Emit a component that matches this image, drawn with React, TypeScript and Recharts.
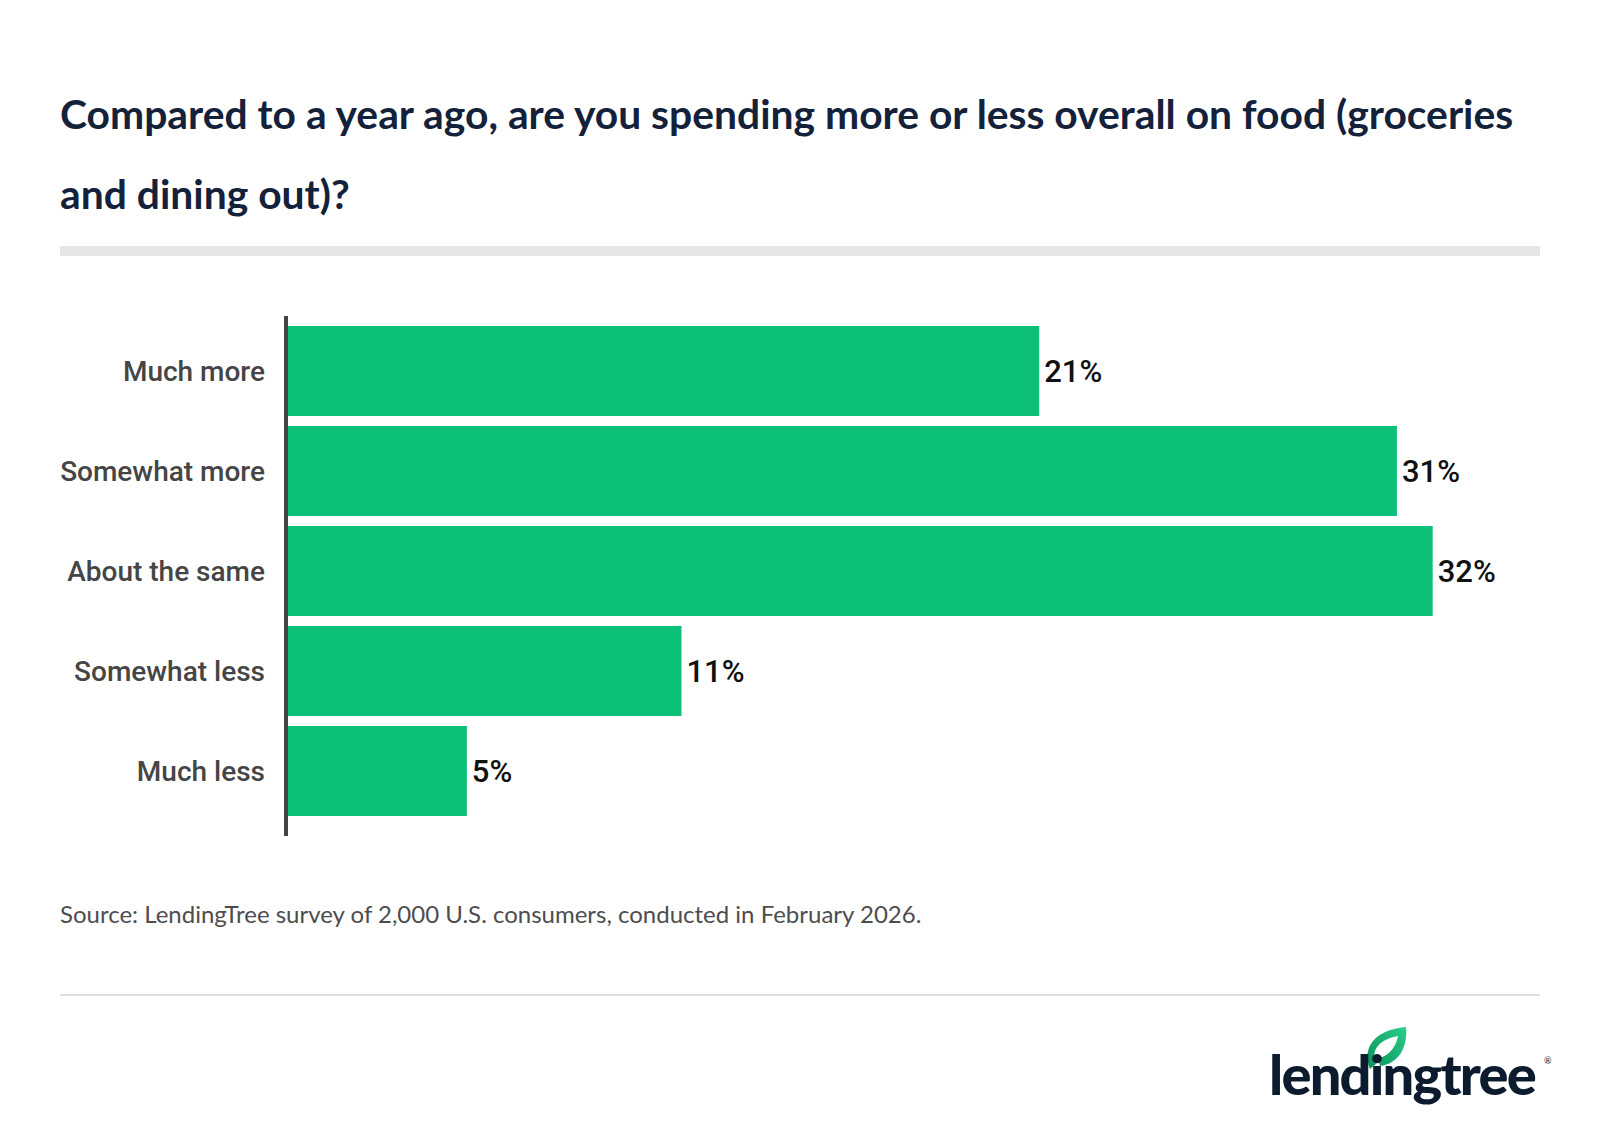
import React from 'react';
import { BarChart, Bar, XAxis, YAxis, LabelList } from 'recharts';

const categories = ['Much more', 'Somewhat more', 'About the same', 'Somewhat less', 'Much less'];
const shares = [21, 31, 32, 11, 5];

const data = categories.map((name, i) => ({ name, value: shares[i] }));

const TITLE_COLOR = '#14213a';
const GREEN = '#0cc078';

const App: React.FC = () => {
  return <div style={{
    position: 'absolute',
    left: 0,
    top: 0,
    width: 1600,
    height: 1138,
    background: '#fff',
    overflow: 'hidden'
  }}>
      <div style={{
      position: 'absolute',
      left: 60,
      top: 74,
      fontFamily: 'Lato',
      fontWeight: 700,
      fontSize: 40.8,
      lineHeight: '80px',
      color: TITLE_COLOR,
      whiteSpace: 'nowrap'
    }}>
        Compared to a year ago, are you spending more or less overall on food (groceries
        <br />
        and dining out)?
      </div>
      <div style={{
      position: 'absolute',
      left: 60,
      top: 246,
      width: 1480,
      height: 10,
      background: '#e6e6e6'
    }} />

      <div style={{
      position: 'absolute',
      left: 0,
      top: 0
    }}>
        <BarChart width={1600} height={880} data={data} layout="vertical" margin={{
        top: 316,
        right: 60,
        bottom: 44,
        left: 0
      }}>
          <XAxis type="number" domain={[0, 35]} hide />
          <YAxis type="category" dataKey="name" width={288} padding={{
          top: 5,
          bottom: 15
        }} tickLine={false} tickSize={0} tickMargin={23} axisLine={{
          stroke: '#444',
          strokeWidth: 4,
          transform: 'translate(-2,0)'
        }} tick={{
          fill: '#454545',
          fontSize: 28,
          fontWeight: 500,
          fontFamily: 'Roboto'
        }} />
          <Bar dataKey="value" fill={GREEN} barSize={90} isAnimationActive={false}>
            <LabelList dataKey="value" position="right" offset={5} formatter={(v: number) => `${v}%`} style={{
            fill: '#111',
            fontSize: 31,
            fontWeight: 500,
            fontFamily: 'Roboto'
          }} />
          </Bar>
        </BarChart>
      </div>

      <div style={{
      position: 'absolute',
      left: 60,
      top: 899,
      fontFamily: 'Lato',
      fontSize: 24,
      color: '#4d4d4d',
      whiteSpace: 'nowrap'
    }}>
        Source: LendingTree survey of 2,000 U.S. consumers, conducted in February 2026.
      </div>
      <div style={{
      position: 'absolute',
      left: 60,
      top: 994,
      width: 1480,
      height: 2,
      background: '#dddddd'
    }} />

      <svg style={{
      position: 'absolute',
      left: 0,
      top: 0
    }} width={1600} height={1138}>
        <defs>
          <linearGradient id="leaf" x1="0" y1="1" x2="1" y2="0">
            <stop offset="0%" stopColor="#0b8f5c" />
            <stop offset="100%" stopColor="#2bd08a" />
          </linearGradient>
        </defs>
        <path d="M 1370 1069 C 1362 1050, 1372 1030, 1406 1027 C 1408 1048, 1398 1064, 1380 1066 L 1378 1058 C 1390 1056, 1396 1046, 1398 1036 C 1380 1039, 1370 1050, 1376 1064 Z" fill="url(#leaf)" />
        <text x={1269} y={1095} fontFamily="Lato" fontWeight={900} fontSize={56} letterSpacing={-1.8} fill="#0c1b2e">
          lendingtree
        </text>
        <text x={1544} y={1064} fontFamily="Lato" fontSize={9} fill="#0c1b2e">®</text>
      </svg>
    </div>;
};

export default App;
